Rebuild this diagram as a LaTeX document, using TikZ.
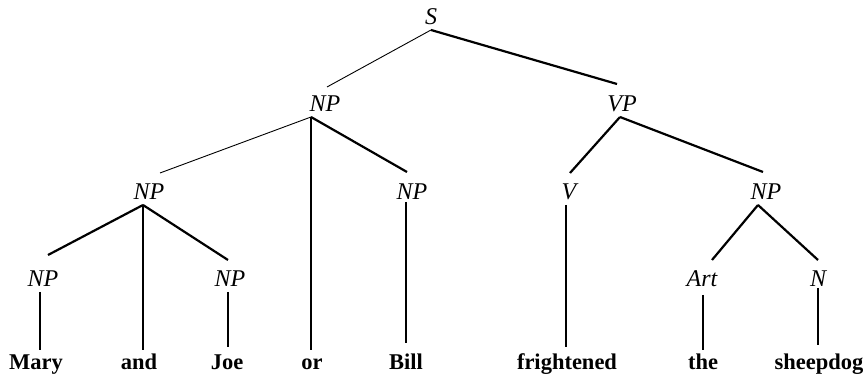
\documentclass[tikz,border=0pt]{standalone}
\usepackage{fontspec}
\setmainfont{Liberation Serif}
\begin{document}
\begin{tikzpicture}[x=1pt,y=1pt,
  cat/.style={font=\fontsize{24}{28}\selectfont\itshape, inner sep=0pt, outer ysep=5pt, text height=15pt, text depth=0pt, anchor=base},
  word/.style={font=\fontsize{22.5}{27}\selectfont\bfseries, inner sep=0pt, outer ysep=5pt, text height=15pt, text depth=0pt, anchor=base},
  br/.style={line width=2.2pt},
  thinbr/.style={line width=0.9pt}]
\useasboundingbox (0,0) rectangle (867,379);
% categories
\node[cat] (S) at (431,354) {S};
\node[cat] (NP1) at (325,267) {NP};
\node[cat] (VP) at (622,267) {VP};
\node[cat] (NP2) at (149,179) {NP};
\node[cat] (NPb) at (412,179) {NP};
\node[cat] (V) at (569,179) {V};
\node[cat] (NP3) at (766,179) {NP};
\node[cat] (NPm) at (43,92) {NP};
\node[cat] (NPj) at (230,92) {NP};
\node[cat] (Art) at (702,92) {Art};
\node[cat] (N) at (818,92) {N};
% words
\node[word] (Mary) at (36,9) {Mary};
\node[word] (and) at (139,9) {and};
\node[word] (Joe) at (227,9) {Joe};
\node[word] (or) at (312,9) {or};
\node[word] (Bill) at (406,9) {Bill};
\node[word] (fr) at (567,9) {frightened};
\node[word] (the) at (703,9) {the};
\node[word] (dog) at (819,9) {sheepdog};
% branches
\draw[thinbr] (S.south) -- ([xshift=2pt,yshift=5pt]NP1.north);
\draw[br] (S.south) -- ([xshift=-5pt,yshift=8pt]VP.north);
\draw[thinbr] ([xshift=-14pt]NP1.south) -- ([xshift=11pt,yshift=7pt]NP2.north);
\draw[br] ([xshift=-14pt]NP1.south) -- ([xshift=-14pt]NP1.south |- or.north);
\draw[br] ([xshift=-14pt]NP1.south) -- ([xshift=-5pt,yshift=8pt]NPb.north);
\draw[br] ([xshift=-2pt]VP.south) -- ([xshift=1pt,yshift=7pt]V.north);
\draw[br] ([xshift=-2pt]VP.south) -- ([xshift=-3pt,yshift=8pt]NP3.north);
\draw[br] ([xshift=-6pt]NP2.south) -- ([xshift=5pt,yshift=12pt]NPm.north);
\draw[br] ([xshift=-6pt]NP2.south) -- ([xshift=-6pt]NP2.south |- and.north);
\draw[br] ([xshift=-6pt]NP2.south) -- ([xshift=-2pt,yshift=7pt]NPj.north);
\draw[br] ([xshift=-8pt]NP3.south) -- ([xshift=10pt,yshift=7pt]Art.north);
\draw[br] ([xshift=-8pt]NP3.south) -- ([yshift=7pt]N.north);
% unary branches
\draw[br] ([xshift=-3pt]NPm.south) -- ([xshift=-3pt]NPm.south |- Mary.north);
\draw[br,shorten >=3pt] ([xshift=-2pt]NPj.south) -- ([xshift=-2pt]NPj.south |- Joe.north);
\draw[br,shorten <=-3pt,shorten >=7pt] ([xshift=-6pt]NPb.south) -- ([xshift=-6pt]NPb.south |- Bill.north);
\draw[br,shorten >=3pt] ([xshift=-3pt]V.south) -- ([xshift=-3pt]V.south |- fr.north);
\draw[br,shorten <=3pt] ([xshift=1pt]Art.south) -- ([xshift=1pt]Art.south |- the.north);
\draw[br,shorten <=-4pt,shorten >=5pt] (N.south) -- (N.south |- dog.north);
\end{tikzpicture}
\end{document}
